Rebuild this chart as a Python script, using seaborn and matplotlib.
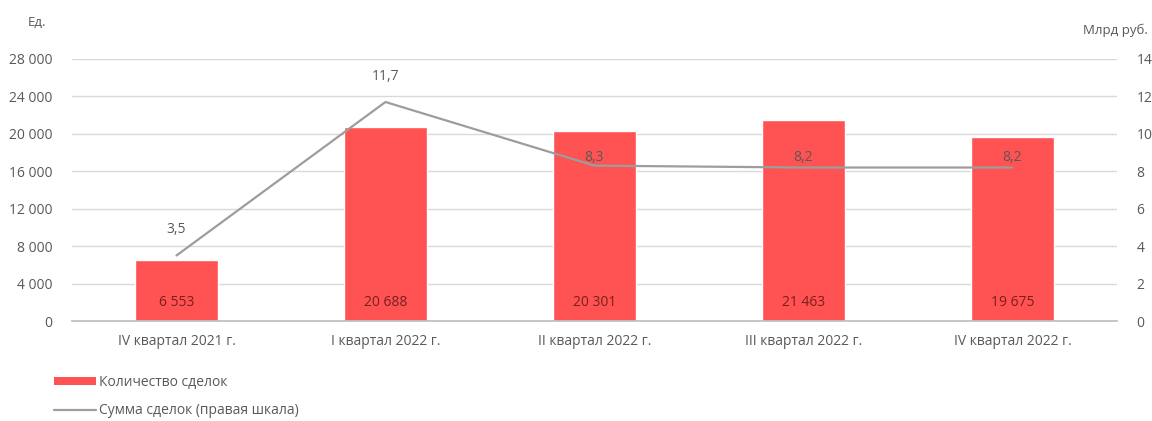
import matplotlib
matplotlib.use('Agg')
import matplotlib.pyplot as plt
from matplotlib.lines import Line2D
from matplotlib.patches import Patch
import seaborn as sns
import numpy as np
import pandas as pd

# chart data
quarters = ['IV квартал 2021 г.', 'I квартал 2022 г.', 'II квартал 2022 г.',
            'III квартал 2022 г.', 'IV квартал 2022 г.']
deal_count = [6553, 20688, 20301, 21463, 19675]
deal_sum = [3.5, 11.7, 8.3, 8.2, 8.2]
left_ticks = [0, 4000, 8000, 12000, 16000, 20000, 24000, 28000]
right_ticks = [0, 2, 4, 6, 8, 10, 12, 14]

BAR = '#ff5252'
LINE = '#9d9d9d'
TXT = '#595959'
FS = 10

sns.set_theme(style='white')
plt.rcParams['font.family'] = ['Open Sans', 'DejaVu Sans']

df = pd.DataFrame({'quarter': quarters, 'count': deal_count, 'sum': deal_sum})

fig = plt.figure(figsize=(11.52, 4.21), dpi=100)
ax = fig.add_axes([0.0625, 0.2375, 0.907, 0.6225])

sns.barplot(data=df, x='quarter', y='count', hue='quarter',
            palette=[BAR] * len(quarters), width=0.4, legend=False,
            saturation=1, ax=ax, zorder=2)
ax.set_ylim(0, 28000)
ax.set_xlim(-0.5, len(quarters) - 0.5)
ax.set_yticks(left_ticks)
ax.set_yticklabels([f'{v:,}'.replace(',', ' ') for v in left_ticks])
ax.grid(axis='y', color='#d9d9d9', linewidth=1, zorder=0)
ax.set_axisbelow(True)
ax.set_xlabel('')
ax.set_ylabel('')
for s in ['top', 'right', 'left']:
    ax.spines[s].set_visible(False)
ax.spines['bottom'].set_color('#bfbfbf')
ax.tick_params(axis='y', length=0, labelsize=FS, labelcolor=TXT, pad=14)
ax.tick_params(axis='x', length=0, labelsize=FS, labelcolor=TXT, pad=9)
ax.set_xticks(np.arange(-0.5, len(quarters), 1.0), minor=True)
ax.tick_params(axis='x', which='minor', length=5, color='#bfbfbf', direction='out')

for i, v in enumerate(deal_count):
    ax.annotate(f'{v:,}'.replace(',', ' '), (i, 0), xytext=(0, 13),
                textcoords='offset points', ha='center', va='center',
                fontsize=FS, color='#7a1f1f')

ax2 = ax.twinx()
sns.lineplot(x=np.arange(len(quarters)), y=deal_sum, color=LINE,
             linewidth=1.6, ax=ax2)
ax2.set_ylim(0, 14)
ax2.set_yticks(right_ticks)
ax2.set_yticklabels([str(v) for v in right_ticks])
ax2.tick_params(axis='y', length=0, labelsize=FS, labelcolor=TXT, pad=14)
for s in ['top', 'right', 'left', 'bottom']:
    ax2.spines[s].set_visible(False)
ax2.grid(False)

offsets = [19, 18, 6, 7, 7]
for i, v in enumerate(deal_sum):
    ax2.annotate(f'{v}'.replace('.', ','), (i, v), xytext=(0, offsets[i]),
                 textcoords='offset points', ha='center', va='center',
                 fontsize=FS, color=TXT)

fig.text(0.024, 0.947, 'Ед.', fontsize=9.5, color=TXT, ha='left', va='center')
fig.text(0.996, 0.928, 'Млрд руб.', fontsize=9.5, color=TXT, ha='right', va='center')

handles = [Patch(facecolor=BAR, edgecolor='none'),
           Line2D([0], [0], color=LINE, linewidth=1.6)]
fig.legend(handles, ['Количество сделок', 'Сумма сделок (правая шкала)'],
           loc='upper left', bbox_to_anchor=(0.042, 0.122), frameon=False,
           fontsize=10, labelcolor=TXT, handlelength=3.0, handleheight=0.55,
           handletextpad=0.25, labelspacing=0.95, borderaxespad=0)

fig.savefig('out.png', dpi=100)
